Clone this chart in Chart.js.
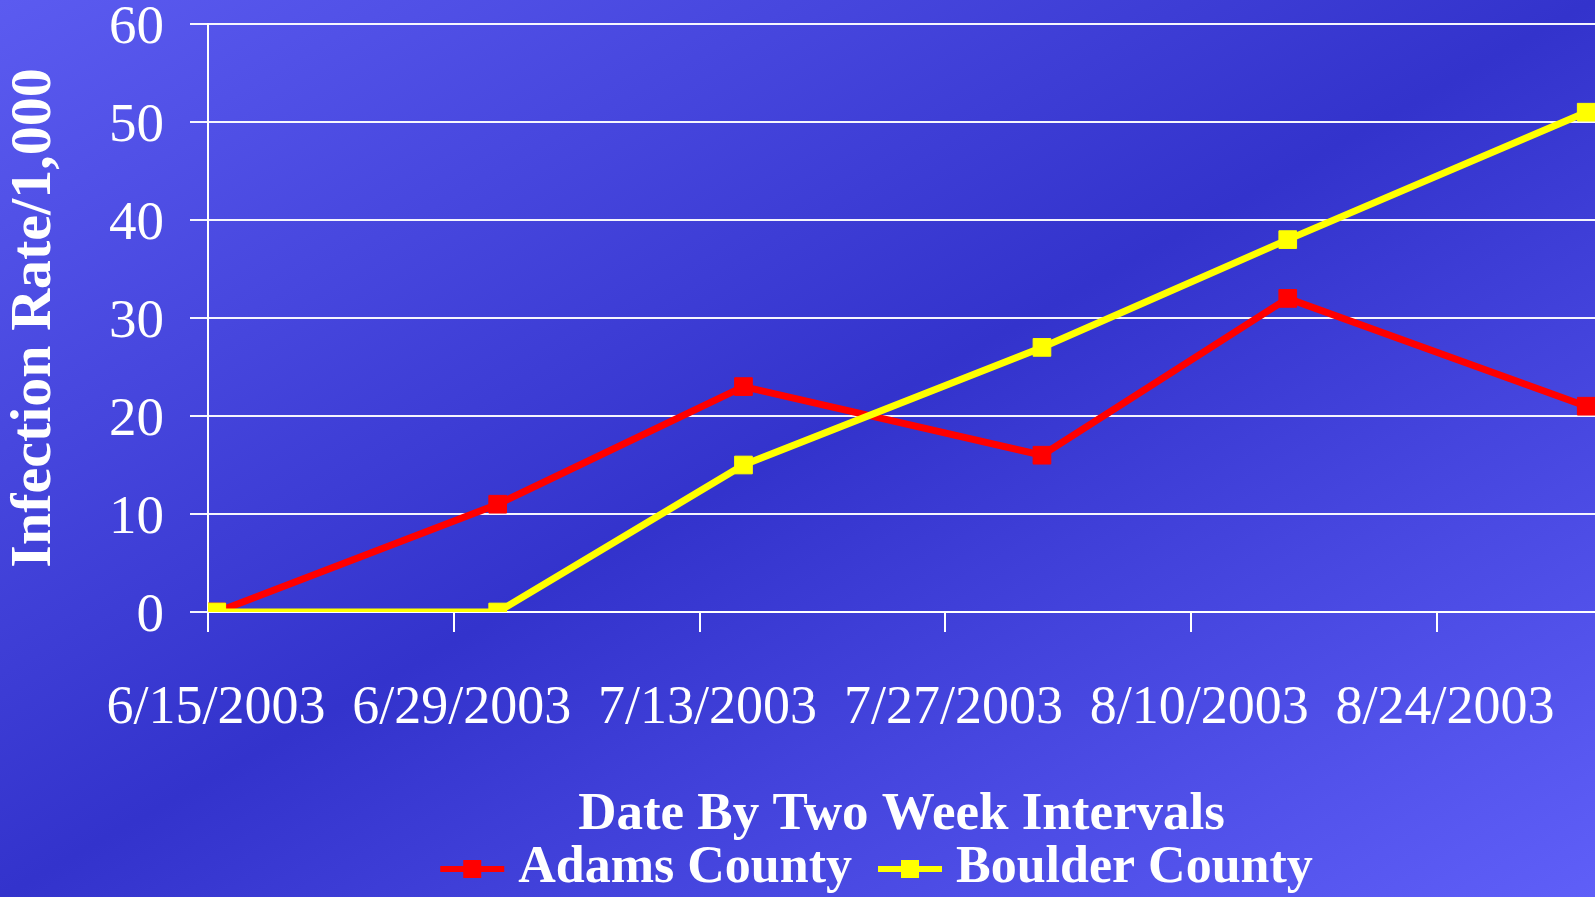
<!DOCTYPE html>
<html>
<head>
<meta charset="utf-8">
<script src="https://cdn.jsdelivr.net/npm/chart.js@4.4.1/dist/chart.umd.min.js"></script>
<style>
  html, body { margin: 0; padding: 0; overflow: hidden; }
  #wrap {
    width: 1595px; height: 897px; position: relative;
    background: linear-gradient(to bottom right, #5b5bf0 0%, #3333cc 50%, #5f5ff8 100%);
  }
  canvas { display: block; }
</style>
</head>
<body>
<div id="wrap"><canvas id="c" width="1595" height="897"></canvas></div>
<script>
// ---- data ----
const categories = ['6/15/2003', '7/1/2003', '7/15/2003', '8/1/2003', '8/15/2003', '9/1/2003'];
const adamsCounty = [0, 11, 23, 16, 32, 21];
const boulderCounty = [0, 0, 15, 27, 38, 51];
const xTickLabels = ['6/15/2003', '6/29/2003', '7/13/2003', '7/27/2003', '8/10/2003', '8/24/2003'];
const seriesNames = ['Adams County', 'Boulder County'];
const yTitle = 'Infection Rate/1,000';
const xTitle = 'Date By Two Week Intervals';

// ---- helpers ----
function dayOf(s) {
  const [m, d, y] = s.split('/').map(Number);
  const base = Date.UTC(2003, 5, 15);
  return Math.round((Date.UTC(y, m - 1, d) - base) / 86400000);
}
// Excel date axis: each point sits in the middle of its day slot
const pts = (vals) => categories.map((c, i) => ({ x: dayOf(c) + 0.5, y: vals[i] }));
const xMax = dayOf(categories[categories.length - 1]) + 1;

// legend symbol: line with a square marker (drawn in the left part of a wider transparent image)
function legendIcon(color) {
  const cv = document.createElement('canvas');
  cv.width = 104; cv.height = 20;
  const g = cv.getContext('2d');
  g.fillStyle = color;
  g.fillRect(1, 7, 64, 6);
  g.fillRect(24, 1, 18, 18);
  return cv;
}
const colors = ['#ff0000', '#ffff00'];
const icons = colors.map(legendIcon);

const serif = "'Liberation Serif', 'Times New Roman', serif";

new Chart(document.getElementById('c'), {
  type: 'line',
  data: {
    datasets: [
      {
        label: seriesNames[0], data: pts(adamsCounty), order: 1,
        borderColor: colors[0], backgroundColor: colors[0], borderWidth: 7,
        pointStyle: 'rect', pointRadius: 12.5, pointBorderWidth: 1, tension: 0
      },
      {
        label: seriesNames[1], data: pts(boulderCounty), order: 0,
        borderColor: colors[1], backgroundColor: colors[1], borderWidth: 7,
        pointStyle: 'rect', pointRadius: 12.5, pointBorderWidth: 1, tension: 0
      }
    ]
  },
  options: {
    responsive: false,
    animation: false,
    events: [],
    layout: { autoPadding: false, padding: { left: 0, top: 24, right: 0, bottom: -8 } },
    scales: {
      x: {
        type: 'linear', min: 0, max: xMax,
        afterBuildTicks: (scale) => { scale.ticks = xTickLabels.map(s => ({ value: dayOf(s) })); },
        afterFit: (scale) => { scale.height = 155; scale.paddingLeft = 0; scale.paddingRight = 0; },
        ticks: {
          autoSkip: false, maxRotation: 0, padding: 44, labelOffset: 8, color: '#ffffff',
          font: { family: serif, size: 54 },
          callback: (v) => { const f = xTickLabels.find(s => dayOf(s) === v); return f || ''; }
        },
        grid: { drawOnChartArea: false, drawTicks: true, tickLength: 20, color: '#ffffff', lineWidth: 2 },
        border: { display: true, color: '#ffffff', width: 2 },
        title: {
          display: true, text: xTitle, color: '#ffffff',
          font: { family: serif, size: 53, weight: 'bold' },
          padding: { top: 0, bottom: -80 }
        }
      },
      y: {
        min: 0, max: 60,
        afterFit: (scale) => { scale.width = 208; scale.paddingTop = 0; scale.paddingBottom = 0; },
        ticks: { stepSize: 10, padding: 26, labelOffset: 5, color: '#ffffff', font: { family: serif, size: 55 } },
        grid: { color: 'rgba(255,255,255,0.95)', lineWidth: 2, tickLength: 18, drawTicks: true },
        border: { display: true, color: '#ffffff', width: 2 },
        title: {
          display: true, text: yTitle, color: '#ffffff',
          font: { family: serif, size: 58, weight: 'bold' },
          padding: { top: 0, bottom: 0 }
        }
      }
    },
    plugins: {
      tooltip: { enabled: false },
      legend: {
        position: 'bottom',
        fullSize: false,
        labels: {
          usePointStyle: true, pointStyleWidth: 2, padding: 76, color: '#ffffff',
          font: { family: serif, size: 52, weight: 'bold' },
          sort: (a, b) => a.datasetIndex - b.datasetIndex,
          generateLabels: (chart) => {
            const items = Chart.defaults.plugins.legend.labels.generateLabels(chart);
            items.forEach((it) => { it.pointStyle = icons[it.datasetIndex]; });
            return items;
          }
        }
      }
    }
  }
});
</script>
</body>
</html>
